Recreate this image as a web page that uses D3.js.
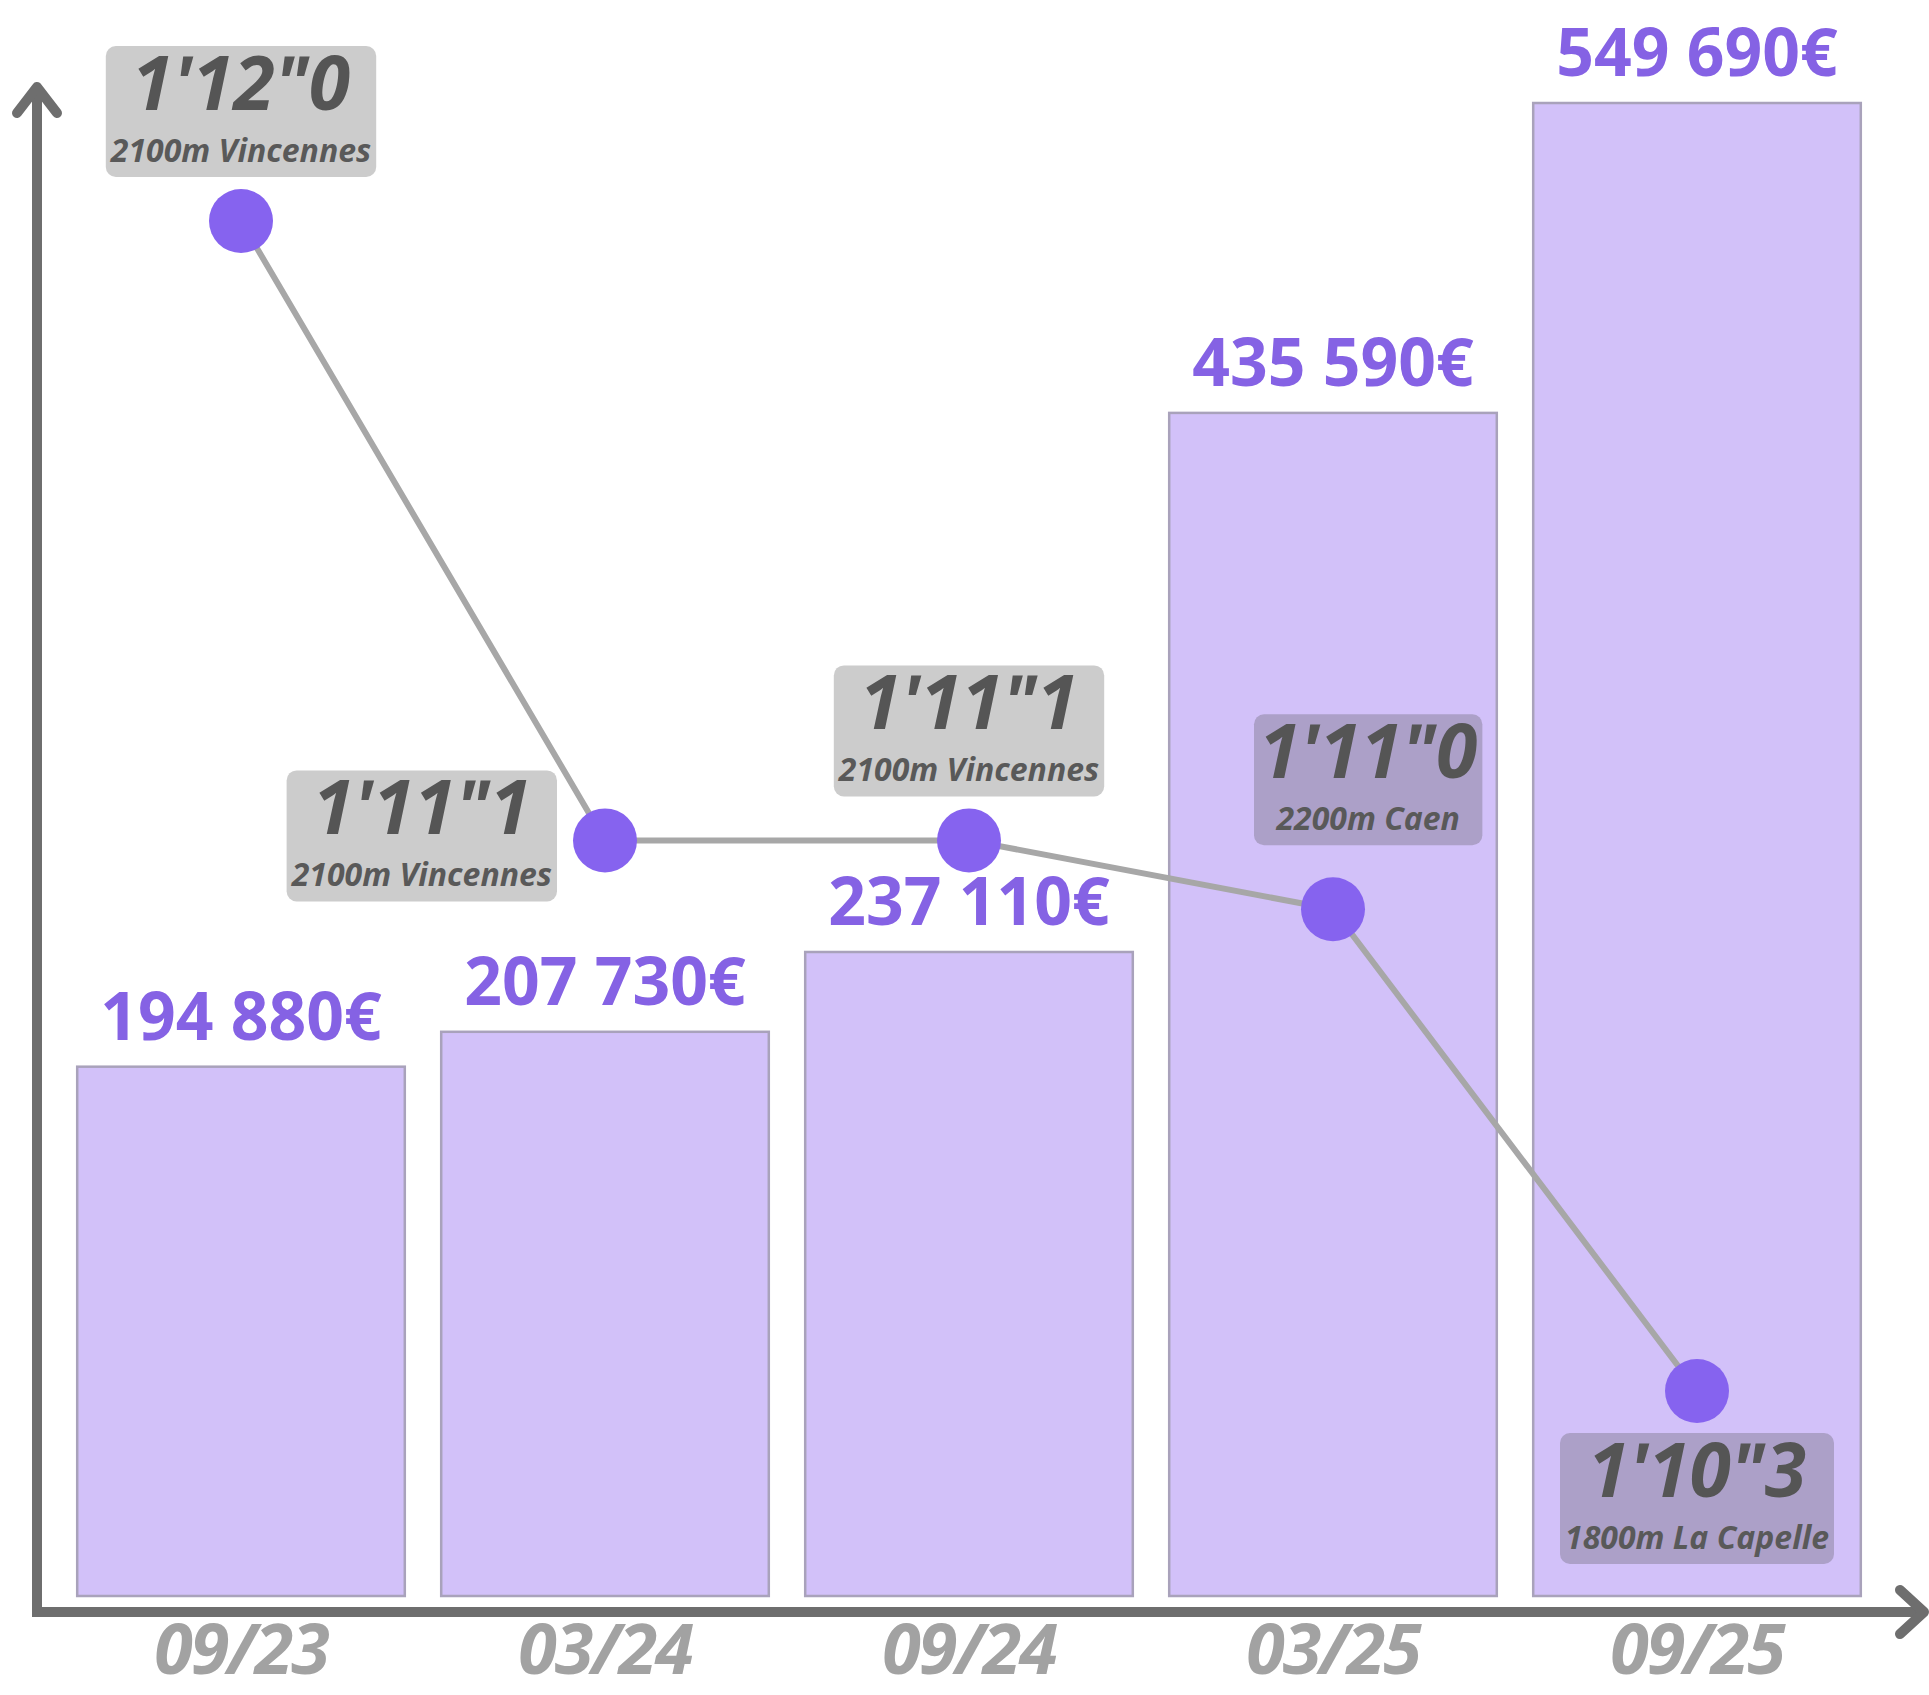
<!DOCTYPE html>
<html>
<head>
<meta charset="utf-8">
<script src="https://cdn.jsdelivr.net/npm/d3@7"></script>
<style>
  body { margin: 0; background: #fff; }
  svg { display: block; }
</style>
</head>
<body>
<div id="chart"></div>
<script>
var periods = ['09/23', '03/24', '09/24', '03/25', '09/25'];
var earnings = [194880, 207730, 237110, 435590, 549690];
var bestTimes = [72.0, 71.1, 71.1, 71.0, 70.3];
var races = ['2100m Vincennes', '2100m Vincennes', '2100m Vincennes', '2200m Caen', '1800m La Capelle'];

var width = 1929, height = 1695;
var axisColor = '#6e6e6e';
var purple = '#8663ef';

var euro = d3.formatLocale({
    decimal: ',', thousands: ' ', grouping: [3], currency: ['', '€']
}).format('$,');

function fmtTime(s) {
    var m = Math.floor(s / 60);
    var r = s - m * 60;
    var sec = Math.floor(r + 1e-9);
    var t = Math.round((r - sec) * 10);
    return `${m}'${sec}"${t}`;
}

var svg = d3.select('#chart')
            .append('svg')
            .attr('width', width)
            .attr('height', height);

var x = d3.scaleBand()
          .domain(periods)
          .range([59, 1879])
          .paddingInner(0.1)
          .paddingOuter(0.05);

var y = d3.scaleLinear()
          .domain([0, d3.max(earnings)])
          .range([1596, 103]);

var yTime = d3.scaleLinear()
              .domain([d3.min(bestTimes), d3.max(bestTimes)])
              .range([1391, 221]);

// bars
svg.selectAll('.bar')
   .data(earnings)
   .enter()
   .append('rect')
   .attr('class', 'bar')
   .attr('x', (d, i) => x(periods[i]))
   .attr('y', d => y(d))
   .attr('width', x.bandwidth())
   .attr('height', d => y(0) - y(d))
   .attr('fill', '#d2c1f9')
   .attr('stroke', '#a9a2bb')
   .attr('stroke-width', 2.5);

svg.selectAll('.value')
   .data(earnings)
   .enter()
   .append('text')
   .attr('class', 'value')
   .attr('x', (d, i) => x(periods[i]) + x.bandwidth() / 2)
   .attr('y', d => y(d) - 27)
   .attr('text-anchor', 'middle')
   .style('font-family', '"Open Sans", sans-serif')
   .style('font-weight', 700)
   .style('font-size', '66px')
   .attr('fill', '#8562e4')
   .text(d => euro(d));

// axes
svg.append('path')
   .attr('d', 'M37,92 L37,1612 L1920,1612')
   .attr('fill', 'none')
   .attr('stroke', axisColor)
   .attr('stroke-width', 10);

svg.append('path')
   .attr('d', 'M17,113 L37,87 L57,113')
   .attr('fill', 'none')
   .attr('stroke', axisColor)
   .attr('stroke-width', 10)
   .attr('stroke-linecap', 'round')
   .attr('stroke-linejoin', 'round');

svg.append('path')
   .attr('d', 'M1900,1590 L1924,1612 L1900,1634')
   .attr('fill', 'none')
   .attr('stroke', axisColor)
   .attr('stroke-width', 10)
   .attr('stroke-linecap', 'round')
   .attr('stroke-linejoin', 'round');

var xAxis = svg.append('g')
   .attr('transform', 'translate(0,1674)')
   .call(d3.axisBottom(x).tickSize(0).tickPadding(0));

xAxis.select('.domain').remove();
xAxis.selectAll('text')
     .attr('y', 0)
     .attr('dy', 0)
     .style('font-family', '"Open Sans", sans-serif')
     .style('font-weight', 700)
     .style('font-style', 'italic')
     .style('font-size', '70px')
     .style('letter-spacing', '-2px')
     .attr('fill', '#a2a2a2');

// time line
var pts = bestTimes.map((t, i) => ({
    x: x(periods[i]) + x.bandwidth() / 2,
    y: yTime(t),
    time: t,
    race: races[i]
}));

svg.append('path')
   .datum(pts)
   .attr('fill', 'none')
   .attr('stroke', '#a7a7a7')
   .attr('stroke-width', 6)
   .attr('d', d3.line().x(d => d.x).y(d => d.y));

svg.selectAll('.dot')
   .data(pts)
   .enter()
   .append('circle')
   .attr('class', 'dot')
   .attr('cx', d => d.x)
   .attr('cy', d => d.y)
   .attr('r', 32)
   .attr('fill', purple);

// label boxes
var placement = ['above', 'left', 'above', 'aboveRight', 'below'];
var boxH = 131;

pts.forEach((p, i) => {
    var g = svg.append('g');
    var rect = g.append('rect')
                .attr('rx', 10)
                .attr('fill', 'rgb(80,80,80)')
                .attr('fill-opacity', 0.29);
    var t1 = g.append('text')
              .attr('text-anchor', 'middle')
              .attr('y', 64)
              .style('font-family', '"Open Sans", sans-serif')
              .style('font-weight', 700)
              .style('font-style', 'italic')
              .style('font-size', '75px')
              .attr('fill', '#555')
              .text(fmtTime(p.time));
    var t2 = g.append('text')
              .attr('text-anchor', 'middle')
              .attr('y', 116)
              .style('font-family', '"Open Sans", sans-serif')
              .style('font-weight', 700)
              .style('font-style', 'italic')
              .style('font-size', '32px')
              .attr('fill', '#595959')
              .text(p.race);

    var w = Math.max(t1.node().getComputedTextLength(), t2.node().getComputedTextLength()) + 10;
    rect.attr('x', -w / 2).attr('y', 0).attr('width', w).attr('height', boxH);

    var bx, by;
    if (placement[i] === 'above') {
        bx = p.x; by = p.y - 44 - boxH;
    } else if (placement[i] === 'left') {
        bx = p.x - 48 - w / 2; by = p.y - 70;
    } else if (placement[i] === 'aboveRight') {
        bx = p.x - 79 + w / 2; by = p.y - 64 - boxH;
    } else {
        bx = p.x; by = p.y + 42;
    }
    g.attr('transform', `translate(${bx},${by})`);
});
</script>
</body>
</html>
